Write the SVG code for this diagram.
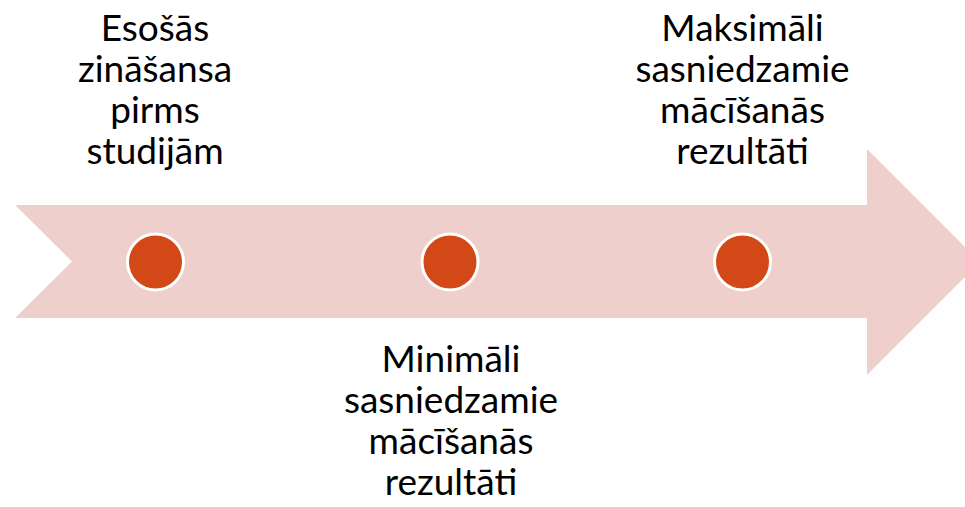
<svg xmlns="http://www.w3.org/2000/svg" width="965" height="507" viewBox="0 0 965 507">
<style>
.lbl{font-family:Lato,"Open Sans","Liberation Sans",sans-serif;font-size:37px;fill:#000;text-anchor:middle}
.dot{fill:#D34817;stroke:#FFFFFF;stroke-width:3}
</style>
<rect width="965" height="507" fill="#FFFFFF"/>
<g id="arrow">
<polygon points="15,205 867,205 867,149 980,262 867,375 867,318 15,318 72,261.5" fill="#EFCFCC"/>
</g>
<g id="node1">
<circle class="dot" cx="155.5" cy="262" r="28"/>
<text class="lbl" x="155" y="41">Esošās</text>
<text class="lbl" x="155" y="82">zināšansa</text>
<text class="lbl" x="155" y="123">pirms</text>
<text class="lbl" x="155" y="164">studijām</text>
</g>
<g id="node2">
<circle class="dot" cx="450" cy="262" r="28"/>
<text class="lbl" x="451" y="372">Minimāli</text>
<text class="lbl" x="451" y="413">sasniedzamie</text>
<text class="lbl" x="451" y="454">mācīšanās</text>
<text class="lbl" x="451" y="495">rezultāti</text>
</g>
<g id="node3">
<circle class="dot" cx="742.5" cy="262" r="28"/>
<text class="lbl" x="742.5" y="41">Maksimāli</text>
<text class="lbl" x="742.5" y="82">sasniedzamie</text>
<text class="lbl" x="742.5" y="123">mācīšanās</text>
<text class="lbl" x="742.5" y="164">rezultāti</text>
</g>
<g id="connectors"></g>
</svg>
